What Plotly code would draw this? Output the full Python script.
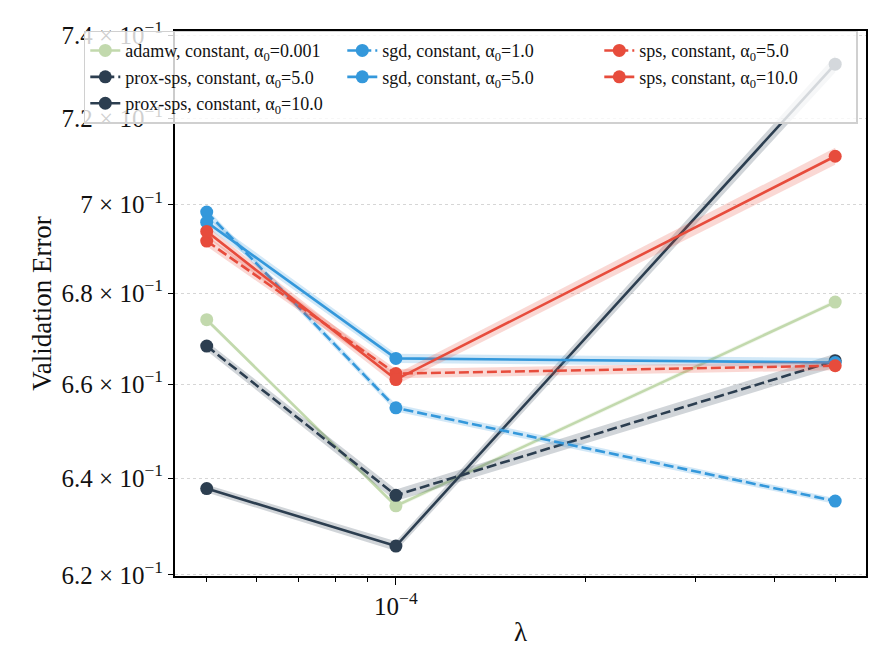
import plotly.graph_objects as go

# regularisation strengths (x, log axis)
lambdas = [5e-5, 1e-4, 5e-4]

# validation error per run
adamw_0001 = [0.6741, 0.6342, 0.6780]
prox_sps_5 = [0.6683, 0.6364, 0.6651]
prox_sps_10 = [0.6378, 0.6259, 0.7330]
sgd_1 = [0.6983, 0.6549, 0.6352]
sgd_5 = [0.6960, 0.6656, 0.6647]
sps_5 = [0.6917, 0.6623, 0.6640]
sps_10 = [0.6939, 0.6610, 0.7112]

# half width of the shaded band
adamw_0001_err = [0.0005, 0.0005, 0.0005]
prox_sps_5_err = [0.0010, 0.0012, 0.0015]
prox_sps_10_err = [0.0008, 0.0010, 0.0020]
sgd_1_err = [0.0008, 0.0008, 0.0006]
sgd_5_err = [0.0012, 0.0010, 0.0010]
sps_5_err = [0.0012, 0.0010, 0.0010]
sps_10_err = [0.0012, 0.0012, 0.0020]

ytick_vals = [0.62, 0.64, 0.66, 0.68, 0.70, 0.72, 0.74]
ytick_text = ["6.2 × 10<sup>−1</sup>", "6.4 × 10<sup>−1</sup>", "6.6 × 10<sup>−1</sup>",
              "6.8 × 10<sup>−1</sup>", "7 × 10<sup>−1</sup>", "7.2 × 10<sup>−1</sup>",
              "7.4 × 10<sup>−1</sup>"]
xminor_vals = [5e-5, 6e-5, 7e-5, 8e-5, 9e-5, 2e-4, 3e-4, 4e-4, 5e-4]

GREEN = "#c2d9ad"
NAVY = "#2c3e50"
BLUE = "#3498db"
RED = "#e74c3c"


def rgba(hex_color, a):
    h = hex_color.lstrip("#")
    r, g, b = int(h[0:2], 16), int(h[2:4], 16), int(h[4:6], 16)
    return f"rgba({r},{g},{b},{a})"


# (name, values, err, colour, dash, legend rank) -- rank gives matplotlib column order
runs = [
    ("adamw, constant, α<sub>0</sub>=0.001", adamw_0001, adamw_0001_err, GREEN, "solid", 1),
    ("prox-sps, constant, α<sub>0</sub>=5.0", prox_sps_5, prox_sps_5_err, NAVY, "dash", 4),
    ("prox-sps, constant, α<sub>0</sub>=10.0", prox_sps_10, prox_sps_10_err, NAVY, "solid", 7),
    ("sgd, constant, α<sub>0</sub>=1.0", sgd_1, sgd_1_err, BLUE, "dash", 2),
    ("sgd, constant, α<sub>0</sub>=5.0", sgd_5, sgd_5_err, BLUE, "solid", 5),
    ("sps, constant, α<sub>0</sub>=5.0", sps_5, sps_5_err, RED, "dash", 3),
    ("sps, constant, α<sub>0</sub>=10.0", sps_10, sps_10_err, RED, "solid", 6),
]

fig = go.Figure()

for name, vals, err, col, dash, rank in runs:
    lo = [v - e for v, e in zip(vals, err)]
    hi = [v + e for v, e in zip(vals, err)]
    fig.add_trace(go.Scatter(x=lambdas, y=lo, mode="lines", line=dict(width=0),
                             showlegend=False, hoverinfo="skip"))
    fig.add_trace(go.Scatter(x=lambdas, y=hi, mode="lines", line=dict(width=0),
                             fill="tonexty", fillcolor=rgba(col, 0.22),
                             showlegend=False, hoverinfo="skip"))
    fig.add_trace(go.Scatter(
        x=lambdas, y=vals, name=name, mode="lines+markers",
        line=dict(color=col, width=2.6, dash="10px,4px" if dash == "dash" else "solid"),
        marker=dict(color=col, size=13),
        legendrank=rank,
    ))

font = "Liberation Serif, DejaVu Serif, serif"

fig.update_layout(
    width=891, height=668,
    margin=dict(l=175, r=25, t=31, b=92, autoexpand=False),
    paper_bgcolor="white", plot_bgcolor="white",
    font=dict(family=font, size=25, color="#111111"),
    showlegend=True,
    legend=dict(
        orientation="h", x=-0.132, y=1.0005, xanchor="left", yanchor="top",
        traceorder="normal", entrywidth=212,
        bgcolor="rgba(255,255,255,0.8)", bordercolor="#d0d0d0", borderwidth=1.5,
        font=dict(family=font, size=18, color="#111111"),
        itemwidth=30,
    ),
)

fig.update_xaxes(
    type="log", range=[-4.3515, -3.252],
    tickvals=[1e-4], ticktext=["10<sup>−4</sup>"],
    ticks="outside", ticklen=7, tickwidth=1.2, tickcolor="black",
    minor=dict(tickvals=xminor_vals, ticks="outside", ticklen=4, tickwidth=1, tickcolor="black"),
    showgrid=False, zeroline=False,
    showline=True, linecolor="black", linewidth=1.8, mirror=True,
    title=dict(text="λ", font=dict(size=27), standoff=3),
)

fig.update_yaxes(
    type="log", range=[-0.20776, -0.13018],
    tickvals=ytick_vals, ticktext=ytick_text,
    ticks="outside", ticklen=5, tickwidth=1.2, tickcolor="black",
    showgrid=True, gridcolor="#d6d6d6", gridwidth=0.8, griddash="dot",
    zeroline=False,
    showline=True, linecolor="black", linewidth=1.8, mirror=True,
    title=dict(text="Validation Error", font=dict(size=27), standoff=2),
)

# the page body has an 8px default margin; drop it so the figure fills the window
fig.write_html("out.html", config={"displayModeBar": False},
               post_script="document.body.style.margin = '0';")
